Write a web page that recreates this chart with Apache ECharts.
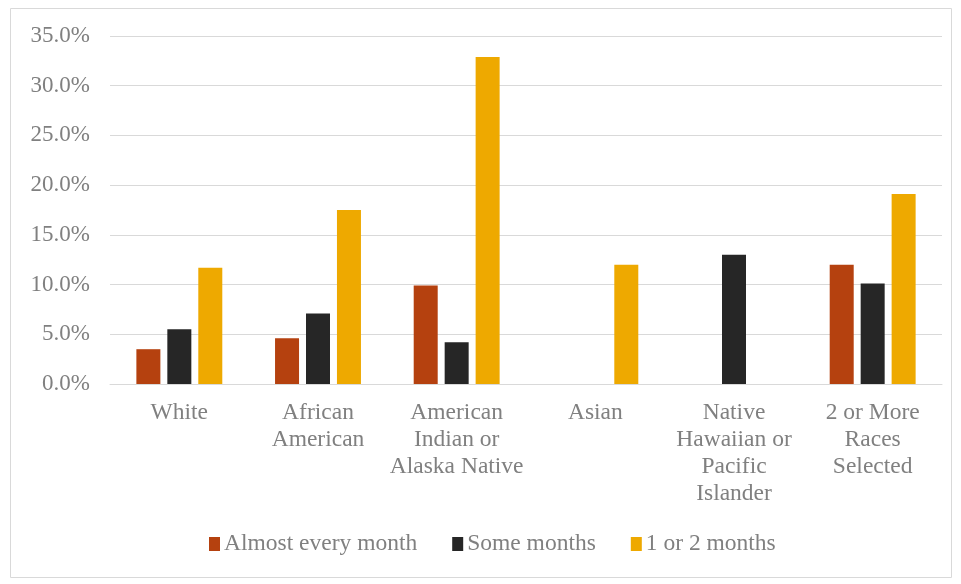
<!DOCTYPE html>
<html><head><meta charset="utf-8">
<script src="https://cdn.jsdelivr.net/npm/echarts@6/dist/echarts.min.js"></script>
<style>html,body{margin:0;padding:0;background:#fff}#c{width:961px;height:584px}</style>
</head><body><div id="c"></div>
<script>
const categories = ['White', 'African\nAmerican', 'American\nIndian or\nAlaska Native', 'Asian', 'Native\nHawaiian or\nPacific\nIslander', '2 or More\nRaces\nSelected'];
const almostEveryMonth = [3.5, 4.6, 9.9, null, null, 12.0];
const someMonths = [5.5, 7.1, 4.2, null, 13.0, 10.1];
const oneOrTwoMonths = [11.7, 17.5, 32.9, 12.0, null, 19.1];
const yTicks = [0, 5, 10, 15, 20, 25, 30, 35];

const font = '"Liberation Serif", "Times New Roman", serif';
const txt = '#808080';
const chart = echarts.init(document.getElementById('c'), null, {renderer: 'canvas'});
const mk = (name, data, color) => ({
  name, type: 'bar', data, barWidth: 24, barGap: '29%',
  itemStyle: {color}
});
chart.setOption({
  animation: false,
  graphic: [{type: 'rect', shape: {x: 10.5, y: 8.5, width: 941, height: 569},
    style: {fill: 'none', stroke: '#d9d9d9', lineWidth: 1}, z: -1}],
  grid: {left: 110, right: 19, top: 36, bottom: 200},
  legend: {
    bottom: 23, left: 204, itemWidth: 11, itemHeight: 14, itemGap: 35,
    icon: 'rect',
    textStyle: {fontFamily: font, fontSize: 23.5, color: txt, padding: [0, 0, 0, -1]},
    data: ['Almost every month', 'Some months', '1 or 2 months']
  },
  xAxis: {
    type: 'category', data: categories,
    axisLine: {show: true, lineStyle: {color: '#d9d9d9', width: 1}},
    axisTick: {show: false},
    axisLabel: {fontFamily: font, fontSize: 23.5, color: txt, lineHeight: 27, margin: 15, interval: 0}
  },
  yAxis: {
    type: 'value', min: 0, max: 35, interval: 5,
    axisLine: {show: false}, axisTick: {show: false},
    splitLine: {lineStyle: {color: '#d9d9d9', width: 1}},
    axisLabel: {fontFamily: font, fontSize: 23, color: txt, margin: 20,
      formatter: v => yTicks.includes(v) ? v.toFixed(1) + '%' : ''}
  },
  series: [
    mk('Almost every month', almostEveryMonth, '#B5410F'),
    mk('Some months', someMonths, '#262626'),
    mk('1 or 2 months', oneOrTwoMonths, '#EEA900')
  ]
});
</script></body></html>
